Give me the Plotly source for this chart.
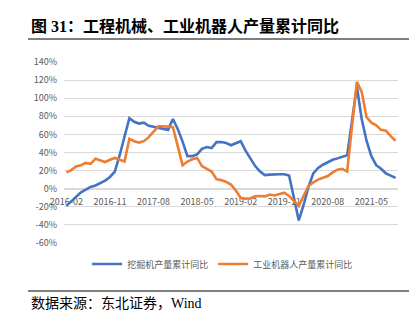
import pandas as pd
import plotly.graph_objects as go

# Monthly categories, 2016-02 .. 2021-10
months = pd.date_range("2016-02-01", periods=69, freq="MS").strftime("%Y-%m").tolist()

# 挖掘机产量累计同比 (%)
excavator = [
    -19, -14, -9, -4, -1, 2, 3.5, 6, 9, 13,
    19, 37, 57, 78, 74, 72, 73, 69.5, 68.5, 67.5,
    66.5, 65, 77, 66, 52, 36, 36, 38, 44, 46,
    45, 51.5, 51.5, 50.5, 48, 50, 52.5, 42, 33, 25,
    19, 15, 15.5, 16, 16, 16, 14.5, -10, -35, -18,
    2, 17, 23, 26.5, 29.5, 32, 33.5, 35, 37, 75,
    113, 77, 53, 36, 26, 22, 17, 14.5, 12,
]

# 工业机器人产量累计同比 (%)
robot = [
    18, 20.5, 24.5, 26, 28.5, 27.5, 33, 31, 29.5, 32,
    34, 32, 30, 55, 52.5, 51, 52.5, 57, 62.5, 69,
    69, 68.5, 68, 47, 26, 30, 32.5, 34, 25, 22,
    19, 10.5, 9.5, 7.5, 4.5, -2, -10, -11, -10.5, -8.5,
    -8, -8.5, -6.5, -7.5, -6, -4.5, -8, -13, -19, -8,
    3, 7, 10, 12, 14, 18, 21, 22, 19, 69,
    118, 107, 79, 73, 70, 65, 64, 58, 53,
]

series_names = ["挖掘机产量累计同比", "工业机器人产量累计同比"]
series_colors = ["#4472C4", "#ED7D31"]

y_ticks = list(range(-60, 141, 20))
x_ticks = months[::9]

title_text = "图 31：工程机械、工业机器人产量累计同比"
source_text = "数据来源：东北证券，Wind"

W, H = 420, 327
L, R, T, B = 64, 22, 62, 84
plot_w = W - L - R
plot_h = H - T - B


def px(x):
    return (x - L) / plot_w


def py(y):
    return (H - B - y) / plot_h


fig = go.Figure()
for name, vals, color in zip(series_names, [excavator, robot], series_colors):
    fig.add_trace(go.Scatter(
        x=months, y=vals, name=name, mode="lines",
        line=dict(color=color, width=2.6),
    ))

tick_font = dict(family="Noto Sans CJK SC, Noto Sans, sans-serif", size=9, color="#595959")

fig.update_layout(
    width=W, height=H,
    margin=dict(l=L, r=R, t=T, b=B),
    paper_bgcolor="white", plot_bgcolor="white",
    showlegend=True,
    legend=dict(
        orientation="h", x=0.475, xanchor="center", y=py(264), yanchor="middle",
        font=dict(family="Noto Sans CJK SC, sans-serif", size=9, color="#595959"),
        itemwidth=30, bgcolor="rgba(0,0,0,0)",
    ),
    xaxis=dict(
        type="category", range=[-0.5, len(months) - 0.5],
        tickvals=x_ticks, ticktext=x_ticks, ticks="",
        showgrid=False, showline=True, linecolor="#D9D9D9", linewidth=1,
        anchor="free", position=60 / 200, layer="below traces",
        tickfont=tick_font, ticklabelstandoff=4, tickangle=0,
    ),
    yaxis=dict(
        range=[-60, 140], tickvals=y_ticks,
        ticktext=[f"{v}%" for v in y_ticks],
        showgrid=True, gridcolor="#D9D9D9", gridwidth=1,
        zeroline=False, showline=False, ticks="",
        tickfont=tick_font, ticklabelstandoff=6,
    ),
    shapes=[
        dict(type="line", xref="paper", yref="paper", x0=px(28), x1=px(409),
             y0=py(39), y1=py(39), line=dict(color="black", width=1)),
        dict(type="line", xref="paper", yref="paper", x0=px(28), x1=px(409),
             y0=py(291), y1=py(291), line=dict(color="black", width=1)),
    ],
    annotations=[
        dict(text=title_text, xref="paper", yref="paper", x=px(29), y=py(26),
             xanchor="left", yanchor="middle", showarrow=False,
             font=dict(family="Liberation Serif, Noto Sans CJK SC, serif", size=16,
                       color="black", weight="bold")),
        dict(text=source_text, xref="paper", yref="paper", x=px(29), y=py(303),
             xanchor="left", yanchor="middle", showarrow=False,
             font=dict(family="Liberation Serif, Noto Sans CJK SC, serif", size=14,
                       color="black")),
    ],
)

fig.write_html("out.html")
